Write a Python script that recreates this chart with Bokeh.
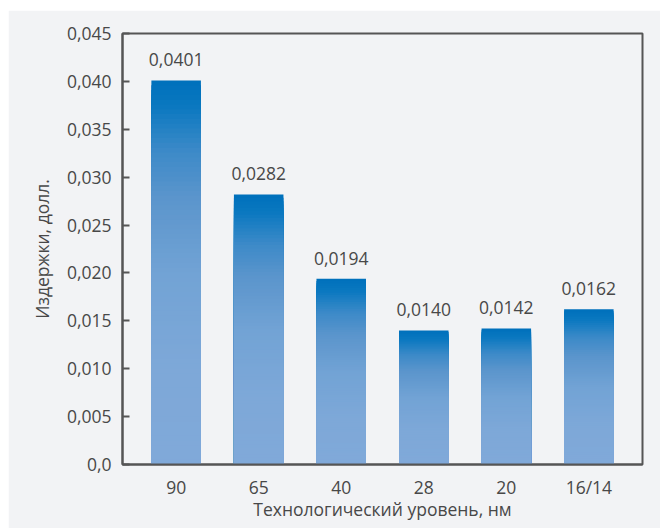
from bokeh.plotting import figure
from bokeh.models import FactorRange, Range1d, ColumnDataSource, LabelSet, FixedTicker
from bokeh.core.properties import value
from bokeh.embed import file_html
from bokeh.resources import INLINE

# Cost per unit by process node
nodes = ["90", "65", "40", "28", "20", "16/14"]
costs = [0.0401, 0.0282, 0.0194, 0.0140, 0.0142, 0.0162]
y_ticks = [0.0, 0.005, 0.010, 0.015, 0.020, 0.025, 0.030, 0.035, 0.040, 0.045]
y_tick_labels = ["0,0", "0,005", "0,010", "0,015", "0,020", "0,025", "0,030", "0,035", "0,040", "0,045"]

BG = "#f2f3f5"
AXIS = "#555555"
TEXT = "#484848"
FONT = "Open Sans"
FSIZE = "17.5px"

# vertical gradient stops (fraction from the bar top, rgb)
stops = [
    (0.00, (0, 113, 188)),
    (0.06, (10, 120, 192)),
    (0.18, (61, 138, 200)),
    (0.30, (91, 149, 204)),
    (0.50, (114, 163, 213)),
    (0.75, (126, 168, 216)),
    (1.00, (128, 169, 217)),
]


def grad_color(t):
    for (t0, c0), (t1, c1) in zip(stops[:-1], stops[1:]):
        if t <= t1:
            f = (t - t0) / (t1 - t0) if t1 > t0 else 0.0
            r, g, b = (round(a + (b_ - a) * f) for a, b_ in zip(c0, c1))
            return "#%02x%02x%02x" % (r, g, b)
    return "#%02x%02x%02x" % stops[-1][1]


p = figure(
    width=652, height=518, margin=(10, 0, 0, 8),
    x_range=FactorRange(factors=nodes, range_padding=0.15, range_padding_units="absolute"),
    y_range=Range1d(0, 0.045),
    output_backend="svg", toolbar_location=None,
    background_fill_color=BG, border_fill_color=BG,
    min_border_left=114, min_border_top=23, min_border_right=18, min_border_bottom=64,
)

# gradient fill: nested bars from the full height downwards, each shorter
# one drawn over the previous with a lighter shade (no seams between steps)
N = 80
sx, st, sc = [], [], []
for k in range(N):
    for node, v in zip(nodes, costs):
        sx.append(node)
        st.append(v * (1 - k / N))
        sc.append(grad_color(k / N))
slices = ColumnDataSource(dict(x=sx, top=st, color=sc))
p.vbar(x="x", width=0.6, bottom=0, top="top", source=slices,
       fill_color="color", line_color=None)

labels_src = ColumnDataSource(dict(
    x=nodes, y=costs, text=[("%.4f" % v).replace(".", ",") for v in costs]))
p.add_layout(LabelSet(x="x", y="y", text="text", source=labels_src,
                      y_offset=14, text_align="center", text_baseline="bottom",
                      text_font=value(FONT), text_font_size=FSIZE, text_color=TEXT))

p.xgrid.visible = False
p.ygrid.visible = False
p.outline_line_color = AXIS
p.outline_line_width = 2
p.outline_line_alpha = 1

p.yaxis.ticker = FixedTicker(ticks=y_ticks)
p.yaxis.major_label_overrides = {t: l for t, l in zip(y_ticks, y_tick_labels)}
p.yaxis.axis_label = "Издержки, долл."
p.xaxis.axis_label = "Технологический уровень, нм"

for ax in (p.xaxis[0], p.yaxis[0]):
    ax.axis_line_color = AXIS
    ax.axis_line_width = 2
    ax.major_tick_line_color = AXIS
    ax.major_tick_line_width = 2
    ax.minor_tick_line_color = None
    ax.major_label_text_font = FONT
    ax.major_label_text_font_size = FSIZE
    ax.major_label_text_color = TEXT
    ax.axis_label_text_font = FONT
    ax.axis_label_text_font_size = FSIZE
    ax.axis_label_text_font_style = "normal"
    ax.axis_label_text_color = TEXT

p.yaxis.major_tick_in = 7
p.yaxis.major_tick_out = 0
p.yaxis.major_label_standoff = 11
p.yaxis.axis_label_standoff = 10
p.xaxis.major_tick_in = 0
p.xaxis.major_tick_out = 0
p.xaxis.major_label_standoff = 10
p.xaxis.axis_label_standoff = -5

open("out.html", "w").write(file_html(p, INLINE))
